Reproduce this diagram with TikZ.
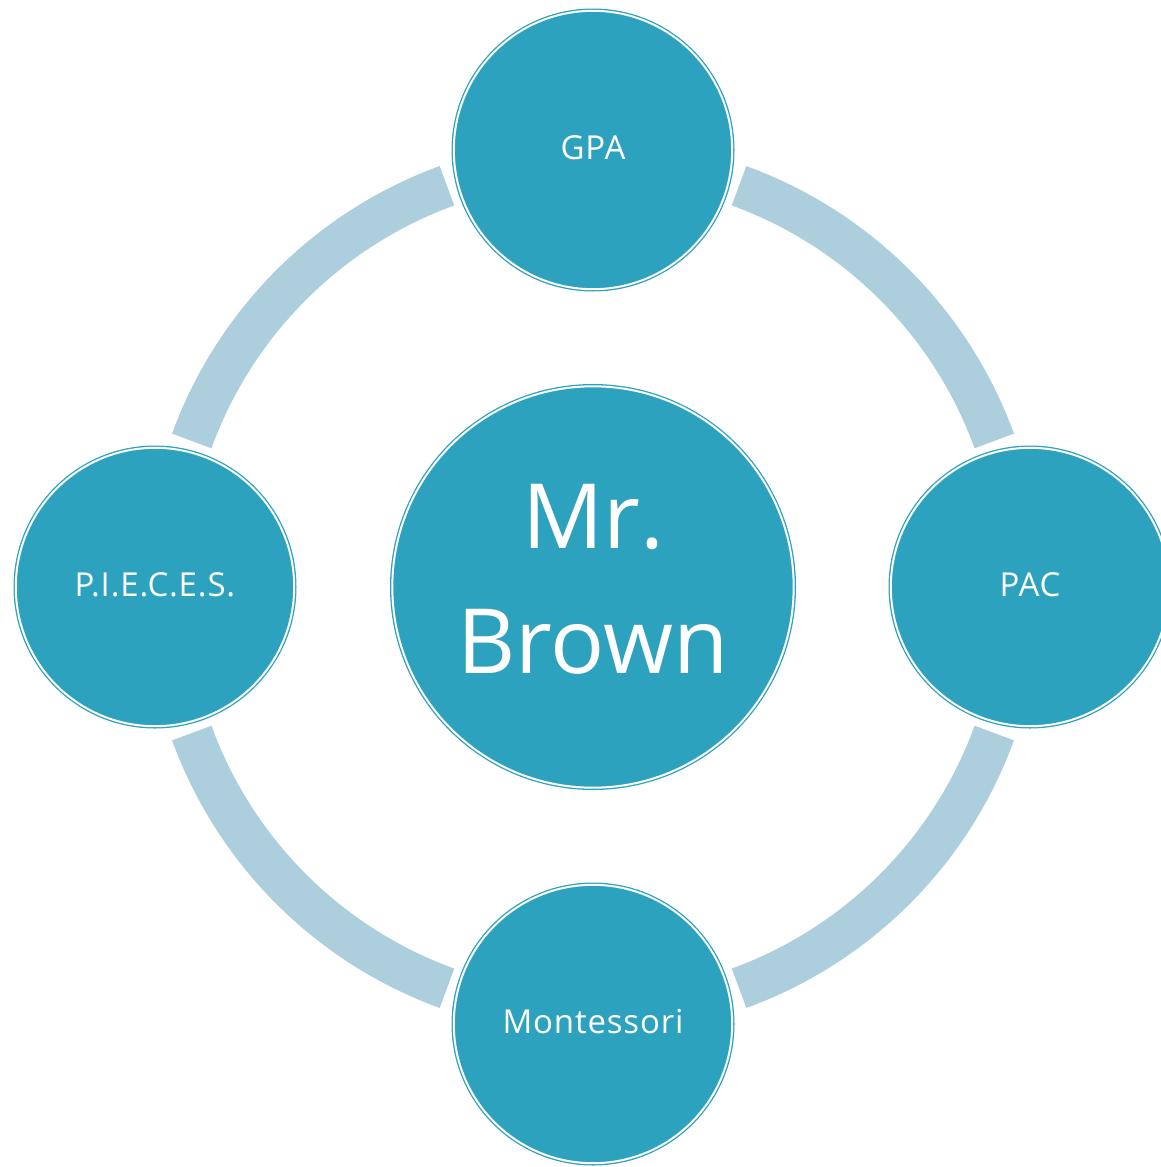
\documentclass[tikz,border=0pt]{standalone}
\usepackage{fontspec}
\setmainfont{Open Sans}
\newfontfamily\satfont[LetterSpace=2.5]{Open Sans}
\definecolor{fillblue}{HTML}{2DA2BF}
\definecolor{ringblue}{HTML}{ADCEDC}
\begin{document}
\begin{tikzpicture}[x=1pt,y=-1pt,
  bubble/.style={circle, fill=fillblue, draw=fillblue, double=white,
    line width=1.3pt, double distance=2pt, inner sep=0pt, text=white,
    align=center},
  sat/.style={bubble, minimum size=278.4pt, text depth=5pt,
    font=\satfont\fontsize{33}{40}\selectfont},
  hubstyle/.style={bubble, minimum size=401.4pt, text depth=16pt,
    font=\fontsize{90}{125}\selectfont},
  ring/.style={draw=ringblue, line width=42pt, line cap=butt}]
\useasboundingbox (0,0) rectangle (1161,1167);
\node[hubstyle] (hub) at (593,587) {Mr.\\Brown};
\draw[ring] ([shift={(20:427)}]hub.center) arc[start angle=20, end angle=70, radius=427];
\draw[ring] ([shift={(110:427)}]hub.center) arc[start angle=110, end angle=160, radius=427];
\draw[ring] ([shift={(200:427)}]hub.center) arc[start angle=200, end angle=250, radius=427];
\draw[ring] ([shift={(290:427)}]hub.center) arc[start angle=290, end angle=340, radius=427];
\node[sat] (gpa) at (593,150) {GPA};
\node[sat] (pac) at (1030,587) {PAC};
\node[sat] (mont) at (593,1024) {Montessori};
\node[sat] (pieces) at (155,587) {P.I.E.C.E.S.};
\end{tikzpicture}
\end{document}
